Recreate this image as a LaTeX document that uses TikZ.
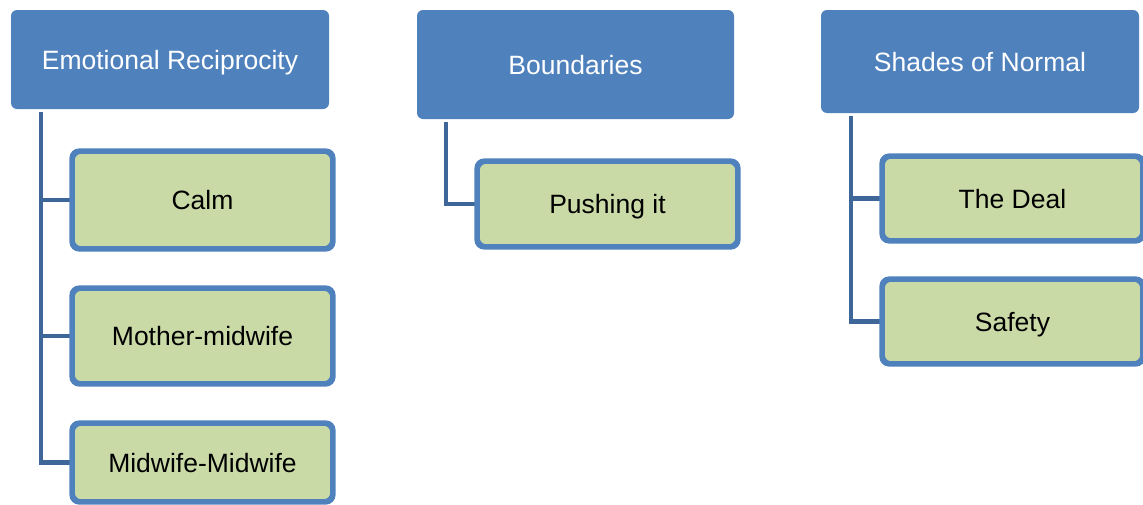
\documentclass[tikz,border=0pt]{standalone}
\usepackage{fontspec}
\setmainfont{Liberation Sans}
\definecolor{headblue}{HTML}{4F81BD}
\definecolor{linkblue}{HTML}{3E6699}
\definecolor{leafgreen}{HTML}{CADAA7}
\tikzset{
  head/.style={fill=headblue, rounded corners=6pt, inner sep=0pt, text depth=0pt,
    text=white, font=\fontsize{26.5}{31}\selectfont, align=center},
  leaf/.style={fill=leafgreen, draw=headblue, line width=3.6pt, rounded corners=8pt,
    inner sep=0pt, text depth=0pt, minimum width=259pt, text=black,
    font=\fontsize{26.5}{31}\selectfont, align=center},
  link/.style={draw=linkblue, line width=4.5pt, shorten <=3pt}
}
\begin{document}
\begin{tikzpicture}[x=1pt,y=-1pt]
\useasboundingbox (0,0) rectangle (1143,504);

% category headers
\node[head, minimum width=318pt, minimum height=99pt]  (h1) at (170,59.5)   {Emotional Reciprocity};
\node[head, minimum width=317pt, minimum height=109pt] (h2) at (575.5,64.5) {Boundaries};
\node[head, minimum width=318pt, minimum height=103pt] (h3) at (980,61.5)   {Shades of Normal};

% sub-themes
\node[leaf, minimum height=96pt] (c1) at (202.5,200)   {Calm};
\node[leaf, minimum height=94pt] (c2) at (202.5,336)   {Mother-midwife};
\node[leaf, minimum height=77pt] (c3) at (202.5,462.5) {Midwife-Midwife};
\node[leaf, minimum height=84pt] (b1) at (607.5,204)   {Pushing it};
\node[leaf, minimum height=83pt] (s1) at (1012.5,198.5) {The Deal};
\node[leaf, minimum height=83pt] (s2) at (1012.5,321.5) {Safety};

% trunk anchors below each header
\coordinate (t1) at ([xshift=30pt]h1.south west);
\coordinate (t2) at ([xshift=29pt]h2.south west);
\coordinate (t3) at ([xshift=30pt]h3.south west);

% connectors
\draw[link] (t1) |- (c3.west);
\draw[link, shorten <=0pt] (c1.west -| t1) -- (c1.west);
\draw[link, shorten <=0pt] (c2.west -| t1) -- (c2.west);
\draw[link] (t2) |- (b1.west);
\draw[link] (t3) |- (s2.west);
\draw[link, shorten <=0pt] (s1.west -| t3) -- (s1.west);

% redraw borders over connector ends
\foreach \n in {c1,c2,c3,b1,s1,s2}
  \draw[draw=headblue, line width=3.6pt, rounded corners=8pt]
    (\n.south west) rectangle (\n.north east);
\end{tikzpicture}
\end{document}
